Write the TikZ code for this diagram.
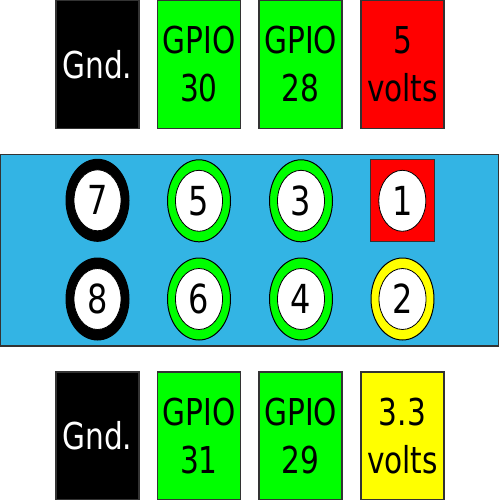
\documentclass[tikz,border=0pt]{standalone}
\usepackage{fontspec}
\usetikzlibrary{shapes.geometric}
\newfontfamily\lab[FakeStretch=0.8]{DejaVu Sans}
\definecolor{boardblue}{RGB}{51,180,228}
\definecolor{edge}{RGB}{51,51,51}
\definecolor{pgreen}{RGB}{0,255,0}
\definecolor{pred}{RGB}{255,0,0}
\definecolor{pyellow}{RGB}{255,255,0}
\tikzset{
  lbl/.style={font=\lab\fontsize{37}{48}\selectfont, align=center},
  labelbox/.style={draw=edge, line width=1.5pt, minimum width=83pt, minimum height=128pt, inner sep=0pt, lbl},
  ring/.style={ellipse, draw=black, line width=1pt, minimum width=63pt, minimum height=82pt, inner sep=0pt},
  hole/.style={ellipse, draw=black, line width=0.8pt, fill=white, minimum width=47pt, minimum height=61pt, inner sep=0pt, font=\lab\fontsize{40}{48}\selectfont},
}
\begin{document}
\begin{tikzpicture}[x=1pt,y=-1pt]
\useasboundingbox (0,0) rectangle (500,500);
% top labels
\node[labelbox, fill=black, text=white] (gndtop) at (97.3,64.5) {Gnd.};
\node[labelbox, fill=pgreen] (g30) at (199,64.5) {GPIO\\30};
\node[labelbox, fill=pgreen] (g28) at (300.7,64.5) {GPIO\\28};
\node[labelbox, fill=pred] (v5) at (402.5,64.5) {5\\volts};
% board
\node[draw=edge, line width=1.5pt, fill=boardblue, minimum width=498pt, minimum height=191.5pt, inner sep=0pt] (board) at (249.5,250) {};
% pin 1 square
\node[draw=edge, line width=1pt, fill=pred, minimum width=64pt, minimum height=82.5pt, inner sep=0pt] (sq1) at (402.2,200.3) {};
% rings row 1
\node[ring, fill=black] (r7) at (97.5,200.3) {};
\node[ring, fill=pgreen] (r5) at (199,200.8) {};
\node[ring, fill=pgreen] (r3) at (301,200.8) {};
% rings row 2
\node[ring, fill=black] (r8) at (97.5,299) {};
\node[ring, fill=pgreen] (r6) at (199,299) {};
\node[ring, fill=pgreen] (r4) at (301,299) {};
\node[ring, fill=pyellow] (r2) at (402.5,299) {};
% holes
\node[hole] (p7) at (r7.center) {7};
\node[hole] (p5) at (r5.center) {5};
\node[hole] (p3) at (r3.center) {3};
\node[hole] (p1) at (402.3,200.8) {1};
\node[hole] (p8) at (r8.center) {8};
\node[hole] (p6) at (r6.center) {6};
\node[hole] (p4) at (r4.center) {4};
\node[hole] (p2) at (r2.center) {2};
% bottom labels
\node[labelbox, fill=black, text=white] (gndbot) at (97.3,436) {Gnd.};
\node[labelbox, fill=pgreen] (g31) at (199,436) {GPIO\\31};
\node[labelbox, fill=pgreen] (g29) at (300.7,436) {GPIO\\29};
\node[labelbox, fill=pyellow] (v33) at (402.5,436) {3.3\\volts};
\end{tikzpicture}
\end{document}
